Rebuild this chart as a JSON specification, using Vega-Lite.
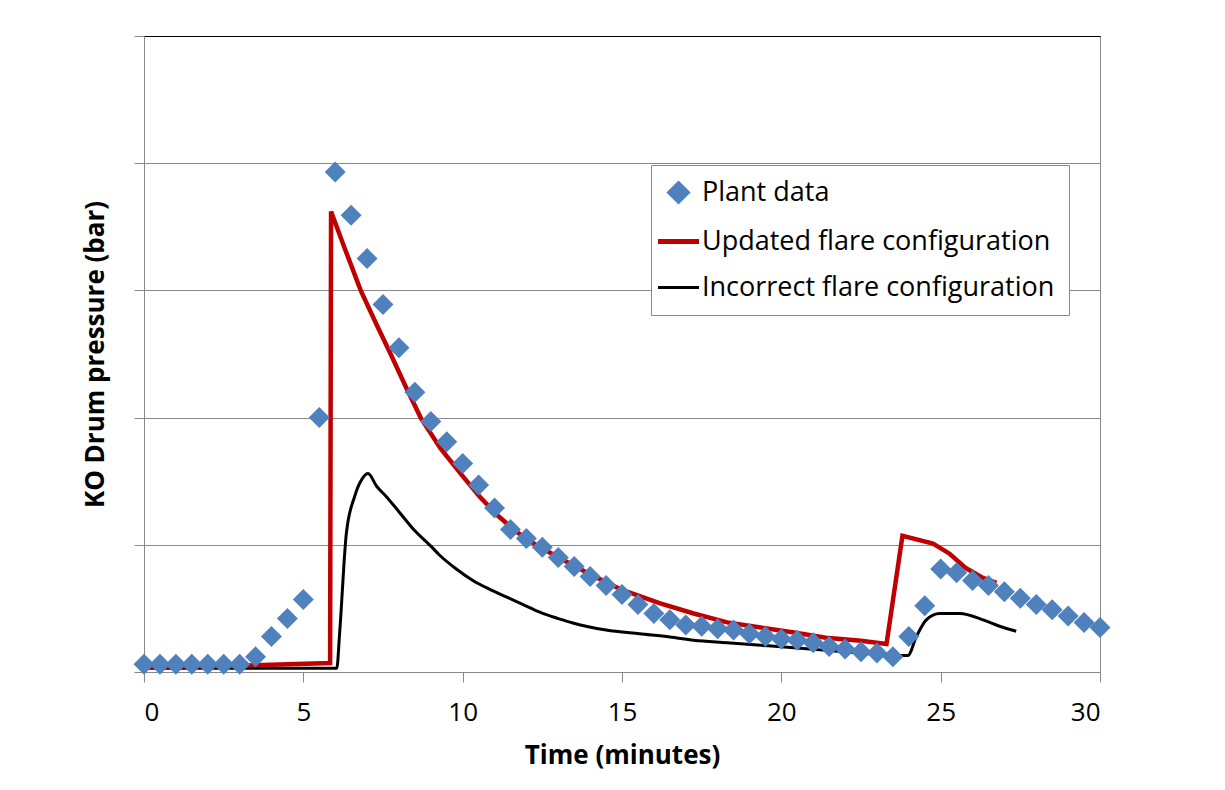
{
  "$schema": "https://vega.github.io/schema/vega-lite/v6.json",
  "autosize": "none",
  "width": 956,
  "height": 636,
  "padding": {"left": 144, "top": 36, "right": 125, "bottom": 118},
  "background": "white",
  "config": {
    "font": "Open Sans",
    "view": {"stroke": "#898989", "strokeWidth": 1},
    "axis": {"domainColor": "#898989", "tickColor": "#898989", "gridColor": "#898989", "labelColor": "#000000", "titleColor": "#000000", "labelFont": "Open Sans", "titleFont": "Open Sans"}
  },
  "datasets": {
    "plant": [
      {"t": 0, "v": 0.06}, {"t": 0.5, "v": 0.06}, {"t": 1, "v": 0.06}, {"t": 1.5, "v": 0.06}, {"t": 2, "v": 0.06}, {"t": 2.5, "v": 0.06}, {"t": 3, "v": 0.06},
      {"t": 3.5, "v": 0.12}, {"t": 4, "v": 0.28}, {"t": 4.5, "v": 0.42}, {"t": 5, "v": 0.57}, {"t": 5.5, "v": 2.0},
      {"t": 6, "v": 3.93}, {"t": 6.5, "v": 3.59}, {"t": 7, "v": 3.25}, {"t": 7.5, "v": 2.89}, {"t": 8, "v": 2.55}, {"t": 8.5, "v": 2.2},
      {"t": 9, "v": 1.97}, {"t": 9.5, "v": 1.81}, {"t": 10, "v": 1.64}, {"t": 10.5, "v": 1.47}, {"t": 11, "v": 1.29}, {"t": 11.5, "v": 1.12},
      {"t": 12, "v": 1.05}, {"t": 12.5, "v": 0.98}, {"t": 13, "v": 0.9}, {"t": 13.5, "v": 0.83}, {"t": 14, "v": 0.75}, {"t": 14.5, "v": 0.68},
      {"t": 15, "v": 0.61}, {"t": 15.5, "v": 0.53}, {"t": 16, "v": 0.46}, {"t": 16.5, "v": 0.41}, {"t": 17, "v": 0.37}, {"t": 17.5, "v": 0.36},
      {"t": 18, "v": 0.34}, {"t": 18.5, "v": 0.33}, {"t": 19, "v": 0.3}, {"t": 19.5, "v": 0.28}, {"t": 20, "v": 0.26}, {"t": 20.5, "v": 0.25},
      {"t": 21, "v": 0.23}, {"t": 21.5, "v": 0.2}, {"t": 22, "v": 0.18}, {"t": 22.5, "v": 0.16}, {"t": 23, "v": 0.15}, {"t": 23.5, "v": 0.12},
      {"t": 24, "v": 0.28}, {"t": 24.5, "v": 0.52}, {"t": 25, "v": 0.81}, {"t": 25.5, "v": 0.78}, {"t": 26, "v": 0.72}, {"t": 26.5, "v": 0.68},
      {"t": 27, "v": 0.63}, {"t": 27.5, "v": 0.58}, {"t": 28, "v": 0.53}, {"t": 28.5, "v": 0.49}, {"t": 29, "v": 0.44}, {"t": 29.5, "v": 0.39}, {"t": 30, "v": 0.35}
    ],
    "updated": [
      {"t": 0, "v": 0.04}, {"t": 3, "v": 0.05}, {"t": 5.84, "v": 0.07}, {"t": 5.87, "v": 3.62}, {"t": 6.3, "v": 3.33}, {"t": 6.8, "v": 3.0},
      {"t": 7.3, "v": 2.73}, {"t": 7.74, "v": 2.5}, {"t": 8.2, "v": 2.25}, {"t": 8.68, "v": 2.0}, {"t": 9.3, "v": 1.76}, {"t": 10, "v": 1.54},
      {"t": 10.53, "v": 1.38}, {"t": 11.1, "v": 1.23}, {"t": 11.7, "v": 1.1}, {"t": 12.3, "v": 1.0}, {"t": 12.94, "v": 0.91}, {"t": 13.98, "v": 0.77}, {"t": 15, "v": 0.645},
      {"t": 16.2, "v": 0.54}, {"t": 17.25, "v": 0.46}, {"t": 18.3, "v": 0.39}, {"t": 19.35, "v": 0.35}, {"t": 20.4, "v": 0.31}, {"t": 21.4, "v": 0.27},
      {"t": 22.5, "v": 0.245}, {"t": 23.3, "v": 0.22}, {"t": 23.8, "v": 1.07}, {"t": 24.76, "v": 1.01}, {"t": 25.28, "v": 0.93}, {"t": 25.8, "v": 0.815},
      {"t": 26.33, "v": 0.74}, {"t": 26.75, "v": 0.7}
    ],
    "incorrect": [
      {"t": 0, "v": 0.03}, {"t": 6.05, "v": 0.03}, {"t": 6.14, "v": 0.31}, {"t": 6.35, "v": 1.09}, {"t": 6.61, "v": 1.38}, {"t": 6.85, "v": 1.52},
      {"t": 7.03, "v": 1.56}, {"t": 7.3, "v": 1.46}, {"t": 7.6, "v": 1.38}, {"t": 8, "v": 1.26}, {"t": 8.5, "v": 1.11}, {"t": 9, "v": 0.99},
      {"t": 9.27, "v": 0.92}, {"t": 9.8, "v": 0.81}, {"t": 10.32, "v": 0.72}, {"t": 10.85, "v": 0.65}, {"t": 11.37, "v": 0.59}, {"t": 11.9, "v": 0.53},
      {"t": 12.42, "v": 0.47}, {"t": 13, "v": 0.42}, {"t": 13.46, "v": 0.385}, {"t": 14.5, "v": 0.33}, {"t": 15.55, "v": 0.3}, {"t": 16.5, "v": 0.275},
      {"t": 17.25, "v": 0.25}, {"t": 18.3, "v": 0.23}, {"t": 19.35, "v": 0.21}, {"t": 20.4, "v": 0.19}, {"t": 21.4, "v": 0.17}, {"t": 22.5, "v": 0.15},
      {"t": 23.5, "v": 0.13}, {"t": 23.97, "v": 0.13}, {"t": 24.24, "v": 0.28}, {"t": 24.55, "v": 0.41}, {"t": 24.97, "v": 0.46}, {"t": 25.6, "v": 0.46},
      {"t": 26.33, "v": 0.41}, {"t": 26.85, "v": 0.36}, {"t": 27.37, "v": 0.32}
    ]
  },
  "resolve": {"axis": {"x": "independent"}},
  "layer": [
    {
      "data": {"name": "incorrect"},
      "transform": [{"calculate": "'Incorrect flare configuration'", "as": "series"}],
      "mark": {"type": "line", "strokeWidth": 3, "interpolate": "monotone"},
      "encoding": {
        "x": {"field": "t", "type": "quantitative", "scale": {"domain": [0, 30], "nice": false, "zero": false},
          "axis": {"orient": "top", "domain": true, "domainColor": "#000000", "domainWidth": 1.2, "ticks": false, "labels": false, "grid": false, "title": null}},
        "y": {"field": "v", "type": "quantitative", "scale": {"domain": [0, 5], "nice": false},
          "axis": {"values": [0, 1, 2, 3, 4, 5], "grid": true, "tickSize": 10, "labels": false,
            "title": "KO Drum pressure (bar)", "titleFontSize": 26, "titleFontWeight": "bold", "titlePadding": 25}},
        "color": {"field": "series", "type": "nominal",
          "scale": {"domain": ["Plant data", "Updated flare configuration", "Incorrect flare configuration"], "range": ["#4F81BD", "#C00000", "#000000"]},
          "legend": {
            "orient": "none", "legendX": 507, "legendY": 129, "title": null,
            "fillColor": "white", "strokeColor": "#898989", "padding": 14,
            "labelFontSize": 27, "labelFont": "Open Sans", "labelColor": "#000000", "labelLimit": 600, "labelOffset": 10,
            "symbolSize": 1681, "rowPadding": 18,
            "encode": {"symbols": {"update": {
              "shape": {"signal": "datum.value === 'Plant data' ? 'diamond' : 'stroke'"},
              "size": {"signal": "datum.value === 'Plant data' ? 400 : 1681"},
              "fill": {"signal": "datum.value === 'Plant data' ? '#4F81BD' : 'transparent'"},
              "stroke": {"signal": "datum.value === 'Plant data' ? 'transparent' : (datum.value === 'Updated flare configuration' ? '#C00000' : '#000000')"},
              "strokeWidth": {"signal": "datum.value === 'Updated flare configuration' ? 5 : 3"},
              "opacity": {"value": 1}
            }}}
          }}
      }
    },
    {
      "data": {"name": "updated"},
      "transform": [{"calculate": "'Updated flare configuration'", "as": "series"}],
      "mark": {"type": "line", "strokeWidth": 4.5},
      "encoding": {
        "x": {"field": "t", "type": "quantitative", "axis": null},
        "y": {"field": "v", "type": "quantitative"},
        "color": {"field": "series", "type": "nominal"}
      }
    },
    {
      "data": {"name": "plant"},
      "transform": [{"calculate": "'Plant data'", "as": "series"}],
      "mark": {"type": "point", "shape": "diamond", "filled": true, "size": 441, "opacity": 1},
      "encoding": {
        "x": {"field": "t", "type": "quantitative",
          "axis": {"orient": "bottom", "values": [0, 5, 10, 15, 20, 25, 30], "grid": false, "tickSize": 10, "labelFontSize": 26, "labelPadding": 17,
            "title": "Time (minutes)", "titleFontSize": 26, "titleFontWeight": "bold", "titlePadding": 17}},
        "y": {"field": "v", "type": "quantitative"},
        "color": {"field": "series", "type": "nominal"}
      }
    }
  ]
}
